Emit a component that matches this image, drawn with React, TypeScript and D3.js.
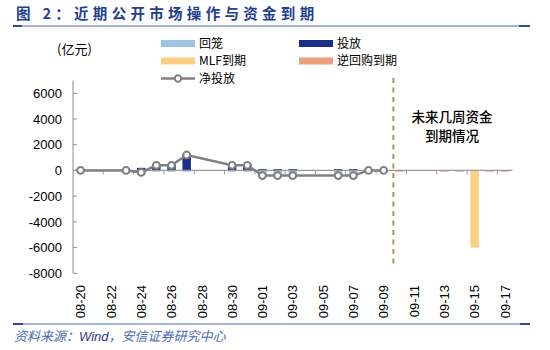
import React from 'react';
import * as d3 from 'd3';

const dates = [
  '08-20', '08-21', '08-22', '08-23', '08-24', '08-25', '08-26', '08-27', '08-28', '08-29',
  '08-30', '08-31', '09-01', '09-02', '09-03', '09-04', '09-05', '09-06', '09-07', '09-08',
  '09-09', '09-10', '09-11', '09-12', '09-13', '09-14', '09-15', '09-16', '09-17',
];

const tickLabels = [
  '08-20', '08-22', '08-24', '08-26', '08-28', '08-30', '09-01', '09-03',
  '09-05', '09-07', '09-09', '09-11', '09-13', '09-15', '09-17',
];

// 投放 (injection), 亿元
const toufang = [
  100, null, null, 100, 200, 500, 500, 1300, null, null,
  500, 500, 100, 100, 100, null, null, 100, 100, 100,
  100, null, null, null, null, null, null, null, null,
];

// 回笼 (withdrawal)
const huilong = [
  -100, null, null, -100, -350, -100, -100, -100, null, null,
  -100, -100, -500, -500, -500, null, null, -500, -500, -100,
  -100, null, null, null, null, null, null, null, null,
];

// 净投放 (net)
const netValues = [
  0, null, null, 0, -150, 400, 400, 1200, null, null,
  400, 400, -400, -400, -400, null, null, -400, -400, 0,
  0, null, null, null, null, null, null, null, null,
];

// MLF到期
const mlfMaturity = [
  null, null, null, null, null, null, null, null, null, null,
  null, null, null, null, null, null, null, null, null, null,
  null, null, null, null, null, null, -6000, null, null,
];

// 逆回购到期
const repoMaturity = [
  null, null, null, null, null, null, null, null, null, null,
  null, null, null, null, null, null, null, null, null, null,
  null, -100, null, null, -100, -100, null, -100, -100,
];

const yTicks = [6000, 4000, 2000, 0, -2000, -4000, -6000, -8000];

const C_HUILONG = '#9dc3e6';
const C_TOUFANG = '#1b2e8c';
const C_MLF = '#fdcf83';
const C_REPO = '#ee9f7e';
const C_NET = '#808080';
const C_TITLE = '#21408f';
const FONT = '"Liberation Sans", Arial, "Noto Sans CJK SC", sans-serif';
const CJK = '"Noto Sans CJK SC", "Liberation Sans", sans-serif';

const App: React.FC = () => {
  const width = 550;
  const height = 350;

  const x = d3
    .scaleBand<string>()
    .domain(dates)
    .range([73, 512.5])
    .paddingInner(0.44)
    .paddingOuter(0.22);
  const step = x.step();
  const cx = (d: string) => (x(d) as number) + x.bandwidth() / 2;

  const y = d3.scaleLinear().domain([-8000, 7000]).range([273.3, 80.4]);
  const y0 = y(0);

  const bar = (vals: (number | null)[], color: string, base?: (number | null)[]) =>
    vals.map((v, i) => {
      if (v == null) return null;
      const b = base && base[i] != null ? (base[i] as number) : 0;
      const top = y(Math.max(b, b + v));
      const bot = y(Math.min(b, b + v));
      return (
        <rect
          key={color + i}
          x={x(dates[i])}
          y={top}
          width={x.bandwidth()}
          height={Math.max(bot - top, 1.2)}
          fill={color}
        />
      );
    });

  const netPts = dates
    .map((d, i) => ({ d, v: netValues[i] }))
    .filter((p) => p.v != null) as { d: string; v: number }[];

  const line = d3
    .line<{ d: string; v: number }>()
    .x((p) => cx(p.d))
    .y((p) => y(p.v));

  // dashed separator between history and future maturities
  const sepX = cx('09-09') + step * 0.64;

  const legendRows = [43.5, 61, 78.5];
  const legendCols = [161, 299];
  const lgFont = 12;

  return (
    <svg
      width={width}
      height={height}
      style={{ position: 'absolute', left: 0, top: 0, background: '#fff' }}
    >
      {/* title */}
      <text
        x={16}
        y={19}
        fontFamily={CJK}
        fontSize={14.5}
        fontWeight="bold"
        letterSpacing={4.3}
        fill={C_TITLE}
      >
        图 2：近期公开市场操作与资金到期
      </text>
      <line x1={13} x2={530} y1={26} y2={26} stroke="#4a6cb3" strokeWidth={1} />
      <line x1={13} x2={22} y1={26} y2={26} stroke="#2c4c9c" strokeWidth={2} />
      <line x1={519} x2={530} y1={26} y2={26} stroke="#2c4c9c" strokeWidth={2} />

      {/* unit */}
      <text x={57} y={53.5} fontFamily={CJK} fontSize={13} fill="#000">
        (亿元)
      </text>

      {/* legend */}
      <g fontFamily={CJK} fontSize={lgFont} fill="#000">
        <rect x={legendCols[0]} y={legendRows[0] - 3.5} width={34} height={7} fill={C_HUILONG} />
        <text x={legendCols[0] + 38} y={legendRows[0] + 4.3}>回笼</text>
        <rect x={legendCols[1]} y={legendRows[0] - 3.5} width={34} height={7} fill={C_TOUFANG} />
        <text x={legendCols[1] + 38} y={legendRows[0] + 4.3}>投放</text>
        <rect x={legendCols[0]} y={legendRows[1] - 3.5} width={34} height={7} fill={C_MLF} />
        <text x={legendCols[0] + 38} y={legendRows[1] + 4.3}>MLF到期</text>
        <rect x={legendCols[1]} y={legendRows[1] - 3.5} width={34} height={7} fill={C_REPO} />
        <text x={legendCols[1] + 38} y={legendRows[1] + 4.3}>逆回购到期</text>
        <line
          x1={legendCols[0]}
          x2={legendCols[0] + 34}
          y1={legendRows[2]}
          y2={legendRows[2]}
          stroke={C_NET}
          strokeWidth={2.5}
        />
        <circle
          cx={legendCols[0] + 17}
          cy={legendRows[2]}
          r={3.2}
          fill="#fff"
          stroke={C_NET}
          strokeWidth={2}
        />
        <text x={legendCols[0] + 38} y={legendRows[2] + 4.3}>净投放</text>
      </g>

      {/* y axis */}
      <line x1={73} x2={73} y1={y(7000)} y2={y(-8000)} stroke="#8c8c8c" strokeWidth={1} />
      {yTicks.map((t) => (
        <g key={t}>
          <line x1={73} x2={77} y1={y(t)} y2={y(t)} stroke="#8c8c8c" strokeWidth={1} />
          <text
            x={62}
            y={y(t)}
            dy="0.36em"
            textAnchor="end"
            fontFamily={FONT}
            fontSize={13}
            fill="#000"
          >
            {t}
          </text>
        </g>
      ))}

      {/* bars */}
      {bar(huilong, C_HUILONG)}
      {bar(toufang, C_TOUFANG)}
      {bar(repoMaturity, C_REPO)}
      {bar(mlfMaturity, C_MLF, repoMaturity)}

      {/* x axis */}
      <line x1={73} x2={512.5} y1={y0} y2={y0} stroke="#9a9a9a" strokeWidth={1.2} />
      {dates.map((d, i) =>
        i % 2 === 1 ? (
          <line
            key={'t' + d}
            x1={73 + (i + 1) * step}
            x2={73 + (i + 1) * step}
            y1={y0}
            y2={y0 + 4}
            stroke="#9a9a9a"
            strokeWidth={1}
          />
        ) : null,
      )}
      {tickLabels.map((d) => (
        <text
          key={'l' + d}
          transform={`translate(${cx(d)},285) rotate(-90)`}
          dy="0.36em"
          textAnchor="end"
          fontFamily={FONT}
          fontSize={13}
          fill="#000"
        >
          {d}
        </text>
      ))}

      {/* net line */}
      <path d={line(netPts) || ''} fill="none" stroke={C_NET} strokeWidth={2.5} />
      {netPts.map((p) => (
        <circle
          key={'c' + p.d}
          cx={cx(p.d)}
          cy={y(p.v)}
          r={3.4}
          fill="#fff"
          stroke={C_NET}
          strokeWidth={2}
        />
      ))}

      {/* separator + annotation */}
      <line
        x1={sepX}
        x2={sepX}
        y1={78}
        y2={267}
        stroke="#a8995a"
        strokeWidth={2}
        strokeDasharray="5,4.5"
      />
      <text
        x={452}
        y={122}
        textAnchor="middle"
        fontFamily={CJK}
        fontSize={13.5}
        fontWeight={500}
        fill="#000"
      >
        未来几周资金
      </text>
      <text
        x={452}
        y={141}
        textAnchor="middle"
        fontFamily={CJK}
        fontSize={13.5}
        fontWeight={500}
        fill="#000"
      >
        到期情况
      </text>

      {/* footer */}
      <line x1={13} x2={530} y1={324} y2={324} stroke="#4a6cb3" strokeWidth={1} />
      <line x1={13} x2={23} y1={324} y2={324} stroke="#2c4c9c" strokeWidth={2} />
      <line x1={520} x2={530} y1={324} y2={324} stroke="#2c4c9c" strokeWidth={2} />
      <text x={14} y={341} fontFamily={CJK} fontSize={13} fontStyle="italic" fill="#4b6cb5">
        资料来源：
        <tspan fontFamily={FONT} fill="#1f3d8a">Wind</tspan>
        ，安信证券研究中心
      </text>
    </svg>
  );
};

export default App;
